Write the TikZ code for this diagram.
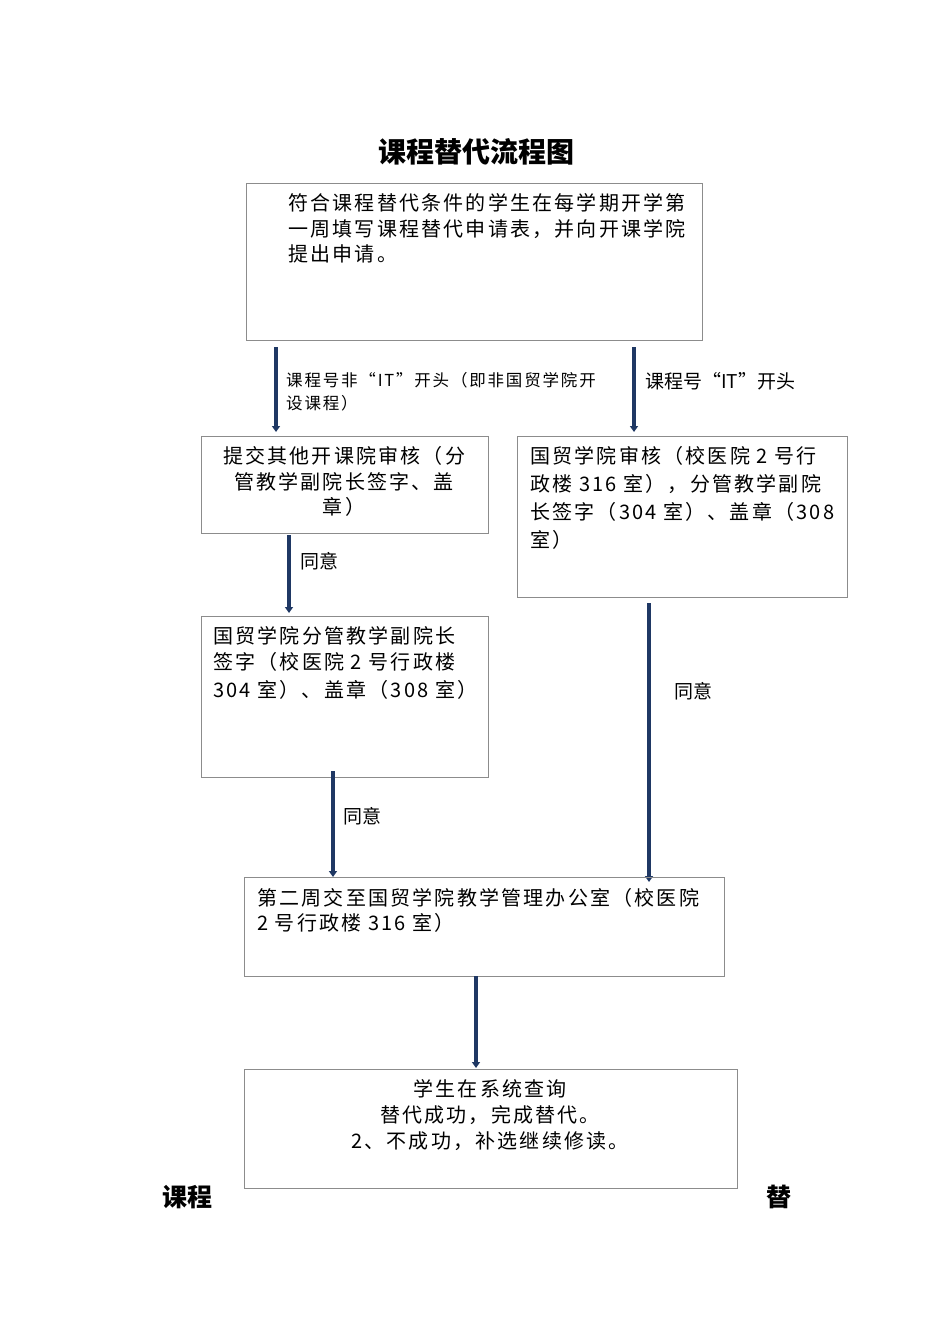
\documentclass[tikz,border=0pt]{standalone}
\usepackage{fontspec}
\setmainfont{Noto Sans CJK SC}
\newfontfamily\spaced[LetterSpace=11]{Noto Sans CJK SC}
\usetikzlibrary{arrows.meta}
\definecolor{navy}{HTML}{1F3864}
\tikzset{
  box/.style={draw=black!45,line width=0.8pt},
  arr/.style={navy,line width=3.5pt,-{Triangle[length=6pt,width=8pt]}},
  txt/.style={anchor=west,inner sep=0pt,font=\spaced\fontsize{20pt}{20pt}\selectfont},
  ctxt/.style={inner sep=0pt,font=\spaced\fontsize{20pt}{20pt}\selectfont},
  lbl/.style={anchor=west,inner sep=0pt,font=\fontsize{19pt}{19pt}\selectfont}
}
\begin{document}
\begin{tikzpicture}[x=1pt,y=-1pt]
\useasboundingbox (0,0) rectangle (950,1344);
\node[inner sep=0pt,font=\fontsize{28pt}{28pt}\selectfont\bfseries] (title) at (476,152) {课程替代流程图};
\draw[box] (246,183) rectangle (702,340);
\node[txt] (t1a) at (288,203) {符合课程替代条件的学生在每学期开学第};
\node[txt] (t1b) at (288,229) {一周填写课程替代申请表，并向开课学院};
\node[txt] (t1c) at (288,254) {提出申请。};
\coordinate (a1s) at (276,347); \coordinate (a1e) at (276,432);
\draw[arr] (a1s) -- (a1e);
\node[lbl,font=\spaced\fontsize{16.5pt}{16.5pt}\selectfont] (l1a) at (286,380) {课程号非“IT”开头（即非国贸学院开};
\node[lbl,font=\spaced\fontsize{16.5pt}{16.5pt}\selectfont] (l1b) at (286,403) {设课程）};
\coordinate (a2s) at (634,347); \coordinate (a2e) at (634,432);
\draw[arr] (a2s) -- (a2e);
\node[lbl] (l2) at (645,381) {课程号“IT”开头};
\draw[box] (201,436) rectangle (488,533);
\node[ctxt] (t2a) at (344,456) {提交其他开课院审核（分};
\node[ctxt] (t2b) at (344,482) {管教学副院长签字、盖};
\node[ctxt] (t2c) at (344,507) {章）};
\draw[box] (517,436) rectangle (847,597);
\node[txt] (t3a) at (530,456) {国贸学院审核（校医院 2 号行};
\node[txt] (t3b) at (530,484) {政楼 316 室），分管教学副院};
\node[txt] (t3c) at (530,512) {长签字（304 室）、盖章（308};
\node[txt] (t3d) at (530,540) {室）};
\coordinate (a3s) at (289,535); \coordinate (a3e) at (289,613);
\draw[arr] (a3s) -- (a3e);
\node[lbl] (l3) at (300,561) {同意};
\draw[box] (201,616) rectangle (488,777);
\node[txt] (t4a) at (213,636) {国贸学院分管教学副院长};
\node[txt] (t4b) at (213,662) {签字（校医院 2 号行政楼};
\node[txt] (t4c) at (213,690) {304 室）、盖章（308 室）};
\coordinate (a4s) at (649,603); \coordinate (a4e) at (649,882);
\draw[arr] (a4s) -- (a4e);
\node[lbl] (l4) at (674,691) {同意};
\coordinate (a5s) at (333,771); \coordinate (a5e) at (333,877);
\draw[arr] (a5s) -- (a5e);
\node[lbl] (l5) at (343,816) {同意};
\draw[box] (244,877) rectangle (724,976);
\node[txt] (t5a) at (257,898) {第二周交至国贸学院教学管理办公室（校医院};
\node[txt] (t5b) at (257,923) {2 号行政楼 316 室）};
\coordinate (a6s) at (476,976); \coordinate (a6e) at (476,1068);
\draw[arr] (a6s) -- (a6e);
\draw[box] (244,1069) rectangle (737,1188);
\node[ctxt] (t6a) at (490,1089) {学生在系统查询};
\node[ctxt] (t6b) at (490,1115) {替代成功，完成替代。};
\node[ctxt] (t6c) at (490,1141) {2、不成功，补选继续修读。};
\node[inner sep=0pt,font=\fontsize{25pt}{25pt}\selectfont\bfseries] (f1) at (187,1197) {课程};
\node[inner sep=0pt,font=\fontsize{25pt}{25pt}\selectfont\bfseries] (f2) at (779,1197) {替};
\end{tikzpicture}
\end{document}
